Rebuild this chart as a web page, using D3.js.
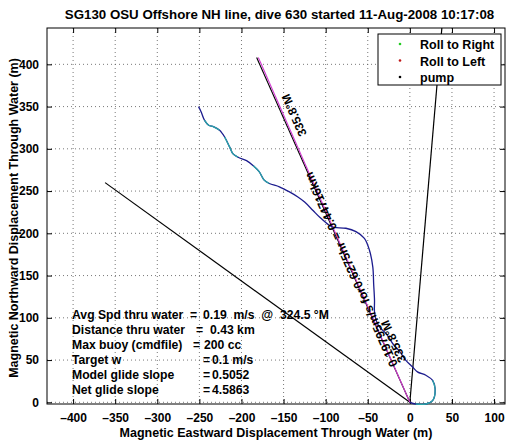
<!DOCTYPE html>
<html><head><meta charset="utf-8">
<script src="https://cdn.jsdelivr.net/npm/d3@7"></script>
<style>
body{margin:0;background:#fff;}
text{font-family:"Liberation Sans",Arial,Helvetica,sans-serif;font-weight:bold;}
</style></head>
<body><svg id="c" width="514" height="442"></svg>
<script>
const title = "SG130 OSU Offshore NH line, dive 630 started 11-Aug-2008 10:17:08";
const xLabel = "Magnetic Eastward Displacement Through Water (m)";
const yLabel = "Magnetic Northward Displacement Through Water (m)";
const xTicks = [-400,-350,-300,-250,-200,-150,-100,-50,0,50,100];
const yTicks = [0,50,100,150,200,250,300,350,400];
// glider track (m east, m north)
const trackX = [0,7,19,27,30,27,19,9,3,-5,-12,-20,-28,-36,-40,-42,-42,-43,-44,-48,-54,-64,-76,-90,-95,-107,-115,-125,-133,-143,-155,-167,-173,-179,-186,-194,-204,-210,-214,-220,-226,-233,-239,-244,-248,-251];
const trackY = [0,-2,-2,2,16,26,32,36,42,50,60,69,81,89,97,107,121,140,160,180,194,202,206,207,209,219,227,237,243,249,255,259,263,273,280,286,290,294,302,314,322,326,328,334,344,350];
const tealRanges = [[1,5],[31,34],[36,39],[40,43]];
// reference lines from origin
const headingEnd = [-182, 408];   // 335.8 deg M
const headingEnd2 = [-180, 408];
const currentEnd = [-362, 260];   // 324.5 deg M
const pumpEnd = [38, 443];
const legendNames = ["Roll to Right","Roll to Left","pump"];
const legendColors = ["#22cc22","#c01818","#000000"];
const statLabels = ["Avg Spd thru water","Distance thru water","Max buoy (cmdfile)","Target w","Model glide slope","Net glide slope"];
const statValues = ["0.19  m/s  @  324.5 °M","0.43 km","200 cc","0.1 m/s","0.5052","4.5863"];
const headLabel = "335.8°M";
const midLabel = "0.19795m/s for0.6275hr = 0.44716km";

const svg = d3.select("#c");
const L=47,R=505,T=28,B=404;
const x = d3.scaleLinear().domain([-431,113]).range([L,R]);
const y = d3.scaleLinear().domain([-2,443]).range([B,T]);

svg.append("text").attr("x",279.5).attr("y",19).attr("text-anchor","middle").attr("font-size",13.3).text(title);

// grid
const g = svg.append("g");
g.selectAll(".gx").data(xTicks).join("line").attr("x1",d=>x(d)).attr("x2",d=>x(d)).attr("y1",T).attr("y2",B)
 .attr("stroke","#555").attr("stroke-width",0.8).attr("stroke-dasharray","1,3");
g.selectAll(".gy").data(yTicks).join("line").attr("y1",d=>y(d)).attr("y2",d=>y(d)).attr("x1",L).attr("x2",R)
 .attr("stroke","#555").attr("stroke-width",0.8).attr("stroke-dasharray","1,3");

// axes
const ax = d3.axisBottom(x).tickValues(xTicks).tickSizeInner(-5).tickSizeOuter(0).tickPadding(9);
svg.append("g").attr("transform",`translate(0,${B})`).call(ax);
const ay = d3.axisLeft(y).tickValues(yTicks).tickSizeInner(-5).tickSizeOuter(0).tickPadding(8);
svg.append("g").attr("transform",`translate(${L},0)`).call(ay);
const at = d3.axisTop(x).tickValues(xTicks).tickSizeInner(-5).tickSizeOuter(0).tickFormat("");
svg.append("g").attr("transform",`translate(0,${T})`).call(at);
const ar = d3.axisRight(y).tickValues(yTicks).tickSizeInner(-5).tickSizeOuter(0).tickFormat("");
svg.append("g").attr("transform",`translate(${R},0)`).call(ar);
svg.selectAll(".domain").remove();
svg.selectAll(".tick text").attr("font-size",12).attr("font-family","Liberation Sans,Arial,sans-serif").attr("font-weight","bold").attr("fill","#000")
  .text(function(){return this.textContent.replace("−","\u2013");});
svg.selectAll(".tick line").attr("stroke","#000");
svg.append("rect").attr("x",L).attr("y",T).attr("width",R-L).attr("height",B-T).attr("fill","none").attr("stroke","#000").attr("stroke-width",1);

svg.append("text").attr("x",(L+R)/2).attr("y",437).attr("text-anchor","middle").attr("font-size",12.5).text(xLabel);
svg.append("text").attr("transform",`translate(18,${(T+B)/2+2}) rotate(-90)`).attr("text-anchor","middle").attr("font-size",12.5).text(yLabel);

// lines from origin
const o=[x(0),y(0)];
function seg(end,color,w){svg.append("line").attr("x1",o[0]).attr("y1",o[1]).attr("x2",x(end[0])).attr("y2",y(end[1])).attr("stroke",color).attr("stroke-width",w);}
seg(currentEnd,"#000",1.2);
seg(pumpEnd,"#000",1.2);
seg(headingEnd,"#000",1.1);
seg(headingEnd2,"#d23ad2",1.1);

// track
const pts = trackX.map((v,i)=>[x(v),y(trackY[i])]);
const line = d3.line().curve(d3.curveCatmullRom.alpha(0.5));
svg.append("path").attr("d",line(pts)).attr("fill","none").attr("stroke","#1c1c8e").attr("stroke-width",1.3);
tealRanges.forEach(r=>{
  svg.append("path").attr("d",line(pts.slice(r[0],r[1]+1))).attr("fill","none").attr("stroke","#2aa5a8").attr("stroke-width",1.3);
});

// rotated labels along heading line
const ex=x(headingEnd[0]), ey=y(headingEnd[1]);
const ang = Math.atan2(ey-o[1], ex-o[0])*180/Math.PI;
const ux=(ex-o[0]), uy=(ey-o[1]); const len=Math.hypot(ux,uy);
const px=-uy/len, py=ux/len; // perpendicular (pointing right)
function lab(t,off,txt,anchor,fs){
  const cx=o[0]+ux*t+px*off, cy=o[1]+uy*t+py*off;
  svg.append("text").attr("transform",`translate(${cx},${cy}) rotate(${ang})`).attr("text-anchor",anchor).attr("font-size",fs).text(txt);
}
lab(0.82,15,headLabel,"middle",12);
lab(0.165,14,headLabel,"middle",12);
lab(0.385,4.5,midLabel,"middle",12.3);

// stats
const eqx=[190,196,193,203,203,203];
const vx=[203,210,204,212,212,212];
statLabels.forEach((s,i)=>{
  const yy=319+i*15;
  svg.append("text").attr("x",72).attr("y",yy).attr("font-size",12.2).text(s);
  svg.append("text").attr("x",eqx[i]).attr("y",yy).attr("font-size",12.2).text("=");
  svg.append("text").attr("x",vx[i]).attr("y",yy).attr("font-size",12.2).attr("xml:space","preserve").style("white-space","pre").text(statValues[i]);
});

// legend
const lg=svg.append("g");
lg.append("rect").attr("x",378).attr("y",34).attr("width",123).attr("height",51).attr("fill","#fff").attr("stroke","#000").attr("stroke-width",1);
legendNames.forEach((n,i)=>{
  lg.append("circle").attr("cx",400).attr("cy",44+i*16.5).attr("r",1.3).attr("fill",legendColors[i]);
  lg.append("text").attr("x",420).attr("y",49+i*16.5).attr("font-size",12.5).text(n);
});
</script></body></html>
